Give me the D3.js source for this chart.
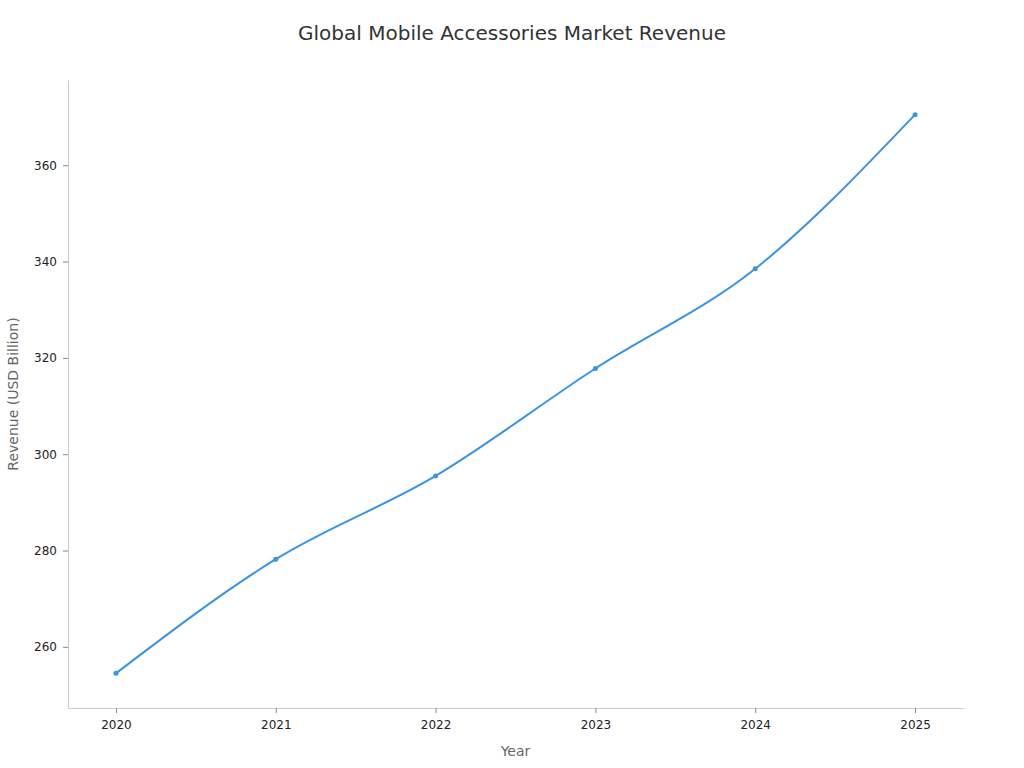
<!DOCTYPE html>
<html>
<head>
<meta charset="utf-8">
<script src="https://cdn.jsdelivr.net/npm/d3@7"></script>
<style>
  body { margin: 0; background: #fff; }
  svg { font-family: "DejaVu Sans", sans-serif; }
  .axis path { stroke: #ccc; }
  .axis .tick line { stroke: #888; }
  .axis text { fill: #222; font-size: 12px; font-family: "DejaVu Sans", sans-serif; }
</style>
</head>
<body>
<svg id="chart" width="1024" height="768"></svg>
<script>
const years = [2020, 2021, 2022, 2023, 2024, 2025];
const revenue = [254.5, 278.2, 295.5, 317.8, 338.5, 370.5];
const yTicks = [260, 280, 300, 320, 340, 360];

const width = 1024;
const height = 768;
const margin = { top: 80, right: 61, bottom: 60, left: 68 };

const svg = d3.select("#chart");

const data = years.map((y, i) => ({ year: y, value: revenue[i] }));

// x gets a little padding on either side of the first/last year
const x = d3.scaleLinear()
  .domain([d3.min(years) - 0.3, d3.max(years) + 0.3])
  .range([margin.left, width - margin.right]);

const [lo, hi] = d3.extent(revenue);
const pad = (hi - lo) * 0.062;
const y = d3.scaleLinear()
  .domain([lo - pad, hi + pad])
  .range([height - margin.bottom, margin.top]);

svg.append("g")
  .attr("class", "axis")
  .attr("transform", `translate(0,${height - margin.bottom})`)
  .call(d3.axisBottom(x).tickValues(years).tickFormat(d3.format("d")).tickSizeInner(5).tickSizeOuter(0).tickPadding(7));

svg.append("g")
  .attr("class", "axis")
  .attr("transform", `translate(${margin.left},0)`)
  .call(d3.axisLeft(y).tickValues(yTicks).tickSizeInner(5).tickSizeOuter(0).tickPadding(6));

const line = d3.line()
  .x(d => x(d.year))
  .y(d => y(d.value))
  .curve(d3.curveMonotoneX);

svg.append("path")
  .datum(data)
  .attr("fill", "none")
  .attr("stroke", "#3a93e3")
  .attr("stroke-width", 2)
  .attr("d", line);

svg.append("g")
  .selectAll("circle")
  .data(data)
  .join("circle")
  .attr("cx", d => x(d.year))
  .attr("cy", d => y(d.value))
  .attr("r", 2.5)
  .attr("fill", "#3a93e3");

// title and axis labels
svg.append("text")
  .attr("x", width / 2)
  .attr("y", 40)
  .attr("text-anchor", "middle")
  .attr("fill", "#333")
  .attr("font-size", 20)
  .text("Global Mobile Accessories Market Revenue");

svg.append("text")
  .attr("x", (margin.left + width - margin.right) / 2)
  .attr("y", 756)
  .attr("text-anchor", "middle")
  .attr("fill", "#666")
  .attr("font-size", 14)
  .text("Year");

svg.append("text")
  .attr("transform", `translate(18,${(margin.top + height - margin.bottom) / 2}) rotate(-90)`)
  .attr("text-anchor", "middle")
  .attr("fill", "#666")
  .attr("font-size", 14)
  .text("Revenue (USD Billion)");
</script>
</body>
</html>
